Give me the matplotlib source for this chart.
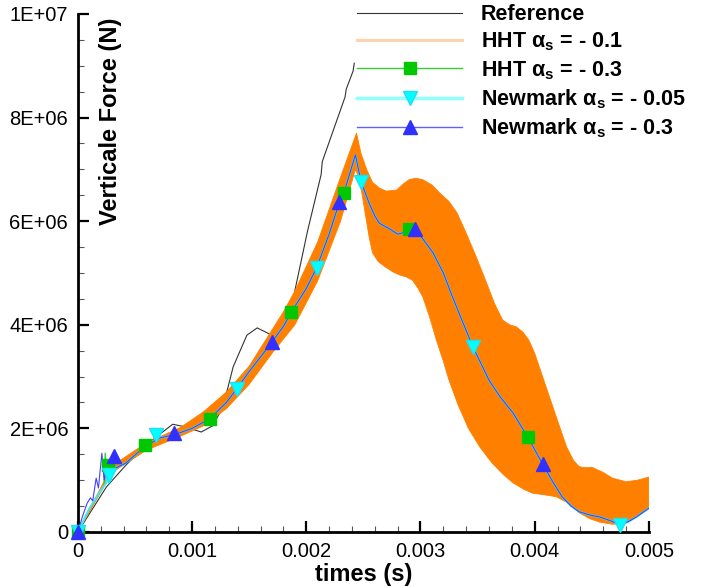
import numpy as np
import matplotlib.pyplot as plt
from matplotlib.lines import Line2D
from matplotlib.ticker import MultipleLocator

plt.rcParams['font.family'] = ['Liberation Sans', 'DejaVu Sans']
plt.rcParams['mathtext.fontset'] = 'custom'
plt.rcParams['mathtext.rm'] = 'Liberation Sans'
plt.rcParams['mathtext.bf'] = 'Liberation Sans:bold'

# reference solution (force in 1E+06 N)
t_ref = [0, 0.00025, 0.00042, 0.00062, 0.00083, 0.00094, 0.00108, 0.00118, 0.00127,
         0.00136, 0.00148, 0.00157, 0.00168, 0.00178, 0.00188, 0.00201, 0.00213,
         0.00214, 0.00234, 0.00235, 0.00241, 0.00242]
f_ref = [0, 0.87, 1.29, 1.72, 2.08, 2.03, 1.93, 2.05, 2.41, 3.19, 3.8, 3.94, 3.82,
         3.9, 4.45, 5.8, 6.9, 7.15, 8.4, 8.55, 8.9, 9.05]

# HHT alpha=-0.1 : oscillation envelope
t_hht1_up = [0, 0.0003, 0.0006, 0.0009, 0.0011, 0.0013, 0.0015, 0.0017, 0.0018, 0.0019,
             0.0021, 0.0023, 0.00244, 0.00248, 0.00253, 0.00258, 0.00264, 0.0027,
             0.00279, 0.00285, 0.0029, 0.00296, 0.00302, 0.0031, 0.00317, 0.00325,
             0.00332, 0.0034, 0.00349, 0.00358, 0.00365, 0.00372, 0.00378, 0.00384,
             0.0039, 0.00395, 0.004, 0.0041, 0.0042, 0.00428, 0.00434, 0.00439,
             0.00445, 0.0045, 0.0046, 0.00468, 0.0048, 0.0049, 0.005]
f_hht1_up = [0, 1.28, 1.72, 2.02, 2.32, 2.7, 3.2, 3.9, 4.25, 4.65, 5.6, 6.85, 7.7, 7.3,
             6.99, 6.75, 6.64, 6.58, 6.6, 6.72, 6.8, 6.83, 6.8, 6.7, 6.54, 6.38, 6.16,
             5.77, 5.3, 4.8, 4.4, 4.09, 4.0, 3.96, 3.85, 3.7, 3.45, 2.8, 2.15, 1.64,
             1.38, 1.26, 1.24, 1.25, 1.15, 1.04, 0.97, 1.0, 1.06]
t_hht1_lo = [0, 0.0003, 0.0006, 0.0009, 0.0011, 0.0013, 0.0015, 0.0017, 0.0019, 0.0021,
             0.0023, 0.00243, 0.00246, 0.00249, 0.00252, 0.00255, 0.00258, 0.00263,
             0.00269, 0.00276, 0.00282, 0.00288, 0.00293, 0.00298, 0.00302, 0.00308,
             0.00314, 0.0032, 0.00325, 0.00333, 0.00342, 0.00352, 0.00362, 0.00372,
             0.00381, 0.0039, 0.00398, 0.00408, 0.00419, 0.0043, 0.00439, 0.00448,
             0.00457, 0.00468, 0.00478, 0.00489, 0.005]
f_hht1_lo = [0, 1.15, 1.58, 1.85, 2.05, 2.38, 2.85, 3.45, 4.0, 4.85, 6.0, 7.0, 6.85,
             6.5, 6.1, 5.7, 5.39, 5.22, 5.12, 5.02, 4.96, 4.92, 4.86, 4.7, 4.54, 4.15,
             3.7, 3.3, 2.93, 2.45, 2.0, 1.64, 1.35, 1.12, 0.95, 0.83, 0.75, 0.72, 0.68,
             0.55, 0.37, 0.26, 0.19, 0.15, 0.16, 0.29, 0.46]

# common smooth part of HHT -0.3 / Newmark runs
t_main = [0.0003, 0.00042, 0.00057, 0.00071, 0.00086, 0.001, 0.00115, 0.0013, 0.00139,
          0.0015, 0.0016, 0.0017, 0.0018, 0.00187, 0.002, 0.00209, 0.0022, 0.00229,
          0.00233, 0.00243, 0.00248, 0.00255, 0.0026, 0.00264, 0.00273, 0.0028,
          0.00285, 0.0029, 0.00295, 0.003, 0.00311, 0.0032, 0.00328, 0.00337, 0.00346,
          0.0036, 0.0037, 0.00381, 0.00394, 0.00407, 0.00415, 0.00424, 0.00432,
          0.00439, 0.00448, 0.00457, 0.00466, 0.00475, 0.00482, 0.00489, 0.005]
f_main = [1.2, 1.33, 1.62, 1.81, 1.89, 2.0, 2.18, 2.5, 2.76, 3.1, 3.38, 3.67, 3.97,
          4.25, 4.7, 5.1, 5.75, 6.37, 6.55, 7.28, 6.76, 6.35, 6.1, 5.96, 5.85, 5.75,
          5.78, 5.85, 5.85, 5.72, 5.39, 5.0, 4.54, 4.05, 3.57, 2.93, 2.6, 2.3, 1.83,
          1.31, 1.0, 0.68, 0.5, 0.39, 0.33, 0.29, 0.22, 0.14, 0.2, 0.29, 0.46]

# start-up transients
t_hht3_start = [0, 0.0001, 0.0002, 0.00023, 0.00024, 0.00025, 0.00026]
f_hht3_start = [0, 0.45, 0.8, 0.9, 1.52, 0.95, 1.29]
t_nm05_start = [0, 0.0001, 0.0002, 0.00025, 0.00026, 0.00027, 0.00028, 0.00029]
f_nm05_start = [0, 0.45, 0.8, 0.95, 1.3, 0.95, 1.25, 1.0]
t_nm3_start = [0, 0.00004, 0.00008, 0.00011, 0.00013, 0.00016, 0.00018, 0.00021,
               0.00023, 0.00026]
f_nm3_start = [0, 0.3, 0.55, 0.66, 0.6, 1.04, 0.85, 1.52, 1.0, 1.35]

# symbols
t_hht3_mk = [0, 0.00026, 0.00059, 0.001155, 0.00187, 0.00233, 0.0029, 0.00394]
f_hht3_mk = [0, 1.29, 1.68, 2.18, 4.25, 6.55, 5.85, 1.83]
t_nm05_mk = [0, 0.00027, 0.00068, 0.00139, 0.00209, 0.00248, 0.00346, 0.00475]
f_nm05_mk = [0, 1.1, 1.87, 2.76, 5.1, 6.76, 3.57, 0.14]
t_nm3_mk = [0, 0.00032, 0.00084, 0.0017, 0.00229, 0.00295, 0.00407]
f_nm3_mk = [0, 1.47, 1.91, 3.67, 6.37, 5.85, 1.31]

x_ticks = [0, 0.001, 0.002, 0.003, 0.004, 0.005]
x_labels = ['0', '0.001', '0.002', '0.003', '0.004', '0.005']
y_ticks = [0, 2e6, 4e6, 6e6, 8e6, 1e7]
y_labels = ['0', '2E+06', '4E+06', '6E+06', '8E+06', '1E+07']

M = 1e6

fig = plt.figure(figsize=(7.08, 5.87), dpi=100)
ax = fig.add_axes([0.110, 0.0937, 0.8065, 0.8825])

ax.plot(t_ref, np.array(f_ref) * M, color='#333333', lw=0.8, zorder=2)

poly_t = np.concatenate([t_hht1_up, t_hht1_lo[::-1]])
poly_f = np.concatenate([f_hht1_up, f_hht1_lo[::-1]]) * M
ax.fill(poly_t, poly_f, color='#ff8000', lw=0.6, zorder=3)

c_green, c_cyan, c_blue = '#00c800', '#00ffff', '#3030ff'

ax.plot(t_hht3_start + t_main, np.array(f_hht3_start + f_main) * M,
        color='#33cc33', lw=1.0, zorder=4)
ax.plot(t_nm05_start + t_main, np.array(f_nm05_start + f_main) * M,
        color='#40e8ff', lw=1.4, zorder=5)
ax.plot(t_nm3_start + t_main, np.array(f_nm3_start + f_main) * M,
        color='#4040ff', lw=0.8, zorder=6)

ax.plot(t_hht3_mk, np.array(f_hht3_mk) * M, 's', color=c_green, ms=8.5,
        mec=c_green, zorder=7, clip_on=False)
ax.plot(t_nm05_mk, np.array(f_nm05_mk) * M, 'v', color=c_cyan, ms=9.5,
        mec='#20e0f0', zorder=8, clip_on=False)
ax.plot(t_nm3_mk, np.array(f_nm3_mk) * M, '^', color=c_blue, ms=9.5,
        mec=c_blue, zorder=9, clip_on=False)

ax.set_xlim(0, 0.005)
ax.set_ylim(0, 1e7)
ax.set_xticks(x_ticks)
ax.set_xticklabels(x_labels)
ax.set_yticks(y_ticks)
ax.set_yticklabels(y_labels)
ax.xaxis.set_minor_locator(MultipleLocator(0.0002))
ax.yaxis.set_minor_locator(MultipleLocator(5e5))
ax.tick_params(which='major', direction='in', length=8, width=1.6,
               labelsize=14.5, pad=7)
ax.tick_params(which='minor', direction='in', length=4.5, width=0.8,
               color='#555555')
for s in ['top', 'right']:
    ax.spines[s].set_visible(False)
for s in ['left', 'bottom']:
    ax.spines[s].set_linewidth(2.0)

ax.set_xlabel('times (s)', fontsize=17, fontweight='bold', labelpad=2)
ax.text(0.058, 0.992, 'Verticale Force (N)', rotation=90, ha='center', va='top',
        transform=ax.transAxes, fontsize=17, fontweight='bold')

handles = [
    Line2D([], [], color='#333333', lw=0.8),
    Line2D([], [], color='#ffd3ad', lw=2.2),
    Line2D([], [], color='#33cc33', lw=1.0, marker='s', ms=8.5, mfc=c_green, mec=c_green),
    Line2D([], [], color='#90ffff', lw=2.5, marker='v', ms=9.5, mfc=c_cyan, mec='#20e0f0'),
    Line2D([], [], color='#6060ff', lw=1.0, marker='^', ms=9.5, mfc=c_blue, mec=c_blue),
]
labels = ['Reference',
          r'HHT α$_\mathbf{s}$ = - 0.1',
          r'HHT α$_\mathbf{s}$ = - 0.3',
          r'Newmark α$_\mathbf{s}$ = - 0.05',
          r'Newmark α$_\mathbf{s}$ = - 0.3']
ax.legend(handles, labels, loc='upper left', bbox_to_anchor=(0.4886, 1.019),
          frameon=False, prop={'weight': 'bold', 'size': 15.5}, handlelength=4.9,
          handletextpad=0.85, labelspacing=0.26, borderpad=0, borderaxespad=0)

fig.savefig('out.png', dpi=100)
